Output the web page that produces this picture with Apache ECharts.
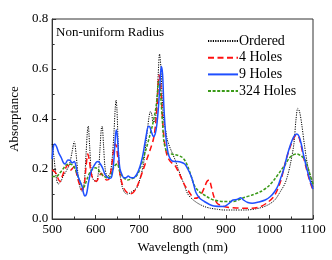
<!DOCTYPE html>
<html><head><meta charset="utf-8">
<script src="https://cdn.jsdelivr.net/npm/echarts@6/dist/echarts.min.js"></script>
<style>html,body{margin:0;padding:0;background:#fff}#c{width:332px;height:260px}</style>
</head><body><div id="c"></div>
<script>
const seriesNames = ['Ordered', '4 Holes', '9 Holes', '324 Holes'];
const xTicks = [500, 600, 700, 800, 900, 1000, 1100];
const yTicks = [0.0, 0.2, 0.4, 0.6, 0.8];

const ordered = [[500,0.30],[504,0.25],[509,0.17],[514,0.14],[520,0.15],[525,0.17],[532,0.19],[540,0.22],[546,0.27],[551,0.31],[555,0.26],[560,0.17],[565,0.12],[569,0.11],[574,0.15],[578,0.26],[581,0.35],[583,0.372],[586,0.3],[590,0.19],[595,0.156],[601,0.15],[606,0.18],[610,0.28],[613,0.36],[615,0.372],[618,0.3],[622,0.2],[627,0.17],[633,0.18],[638,0.24],[642,0.34],[645,0.44],[647,0.476],[649,0.44],[652,0.3],[656,0.18],[661,0.13],[667,0.105],[673,0.10],[680,0.105],[688,0.115],[695,0.125],[702,0.16],[710,0.22],[716,0.31],[720,0.37],[723,0.41],[726,0.43],[729,0.42],[732,0.39],[736,0.39],[740,0.45],[744,0.58],[747,0.66],[750,0.61],[753,0.49],[757,0.39],[761,0.356],[765,0.316],[770,0.29],[776,0.265],[783,0.236],[790,0.2],[798,0.163],[805,0.13],[812,0.10],[822,0.08],[835,0.063],[850,0.05],[864,0.043],[880,0.039],[894,0.036],[916,0.036],[945,0.036],[975,0.043],[995,0.055],[1012,0.076],[1025,0.11],[1035,0.14],[1041,0.17],[1048,0.22],[1056,0.3],[1061,0.4],[1065,0.443],[1069,0.43],[1074,0.38],[1080,0.3],[1087,0.22],[1094,0.17],[1100,0.125]];

const holes4 = [[500,0.196],[505,0.19],[510,0.18],[514,0.16],[518,0.15],[523,0.17],[529,0.196],[536,0.216],[543,0.196],[548,0.205],[552,0.21],[557,0.175],[562,0.143],[569,0.116],[574,0.14],[578,0.21],[582,0.26],[585,0.24],[589,0.19],[593,0.165],[602,0.15],[608,0.17],[613,0.183],[618,0.17],[625,0.156],[631,0.16],[636,0.2],[641,0.27],[645,0.3],[648,0.29],[652,0.23],[657,0.17],[663,0.13],[670,0.11],[678,0.10],[686,0.105],[694,0.125],[702,0.16],[710,0.2],[718,0.24],[726,0.28],[733,0.32],[738,0.38],[742,0.47],[746,0.576],[749,0.55],[752,0.46],[755,0.37],[759,0.3],[765,0.25],[772,0.23],[778,0.22],[783,0.213],[790,0.19],[798,0.16],[805,0.135],[812,0.116],[820,0.095],[827,0.083],[835,0.085],[842,0.096],[850,0.125],[856,0.15],[861,0.156],[866,0.13],[871,0.095],[875,0.076],[880,0.062],[886,0.056],[900,0.048],[916,0.045],[940,0.043],[960,0.043],[980,0.05],[997,0.068],[1010,0.09],[1019,0.12],[1027,0.16],[1034,0.21],[1042,0.26],[1050,0.3],[1056,0.325],[1062,0.336],[1067,0.33],[1072,0.3],[1078,0.25],[1085,0.2],[1092,0.155],[1100,0.115]];

const holes9 = [[500,0.24],[503,0.29],[506,0.30],[510,0.29],[515,0.265],[521,0.245],[526,0.225],[530,0.22],[536,0.236],[541,0.235],[546,0.225],[551,0.23],[555,0.21],[558,0.18],[563,0.155],[569,0.13],[572,0.105],[575,0.092],[579,0.1],[583,0.14],[587,0.175],[591,0.196],[597,0.215],[602,0.228],[606,0.23],[611,0.22],[617,0.2],[621,0.18],[625,0.17],[631,0.163],[636,0.165],[640,0.2],[643,0.26],[646,0.34],[648,0.356],[650,0.33],[653,0.25],[656,0.2],[660,0.18],[665,0.165],[670,0.165],[675,0.172],[680,0.166],[687,0.165],[695,0.18],[702,0.21],[708,0.25],[713,0.3],[717,0.34],[721,0.37],[724,0.37],[728,0.35],[733,0.33],[737,0.34],[741,0.38],[745,0.46],[748,0.54],[751,0.61],[754,0.58],[757,0.45],[761,0.34],[765,0.28],[769,0.25],[776,0.232],[785,0.23],[795,0.228],[805,0.22],[812,0.2],[820,0.17],[826,0.135],[831,0.105],[840,0.082],[850,0.07],[862,0.058],[872,0.052],[894,0.05],[905,0.06],[916,0.076],[925,0.078],[934,0.085],[941,0.075],[950,0.066],[960,0.063],[975,0.068],[990,0.076],[1002,0.09],[1012,0.11],[1020,0.135],[1027,0.17],[1033,0.2],[1038,0.236],[1045,0.28],[1052,0.315],[1058,0.335],[1063,0.34],[1068,0.33],[1073,0.3],[1079,0.25],[1086,0.2],[1093,0.155],[1100,0.12]];

const holes324 = [[500,0.17],[510,0.17],[518,0.185],[525,0.2],[532,0.216],[540,0.22],[547,0.216],[553,0.2],[558,0.176],[564,0.15],[569,0.13],[573,0.128],[577,0.143],[582,0.168],[588,0.19],[594,0.2],[599,0.205],[605,0.2],[613,0.18],[620,0.17],[628,0.163],[635,0.175],[640,0.2],[645,0.215],[650,0.22],[654,0.2],[658,0.18],[665,0.165],[673,0.156],[682,0.16],[690,0.166],[697,0.18],[704,0.21],[710,0.245],[717,0.285],[724,0.33],[730,0.37],[735,0.41],[739,0.45],[742,0.5],[745,0.55],[748,0.53],[751,0.46],[754,0.38],[757,0.31],[762,0.275],[768,0.26],[774,0.26],[779,0.258],[788,0.255],[798,0.248],[805,0.235],[812,0.21],[820,0.17],[827,0.135],[835,0.115],[843,0.103],[850,0.096],[860,0.085],[872,0.076],[894,0.07],[916,0.07],[940,0.085],[960,0.096],[980,0.11],[997,0.13],[1012,0.16],[1027,0.196],[1037,0.22],[1045,0.243],[1054,0.256],[1063,0.26],[1072,0.253],[1082,0.236],[1091,0.19],[1100,0.14]];

const FONT = '"Liberation Serif", "DejaVu Serif", serif';
const chart = echarts.init(document.getElementById('c'), null, {renderer: 'canvas'});
const axisCol = '#333';
const mk = (name, data, color, type, width) => ({
  name, type: 'line', data, symbol: 'none', smooth: 0.3,
  lineStyle: {color, type, width}, itemStyle: {color}, emphasis: {disabled: true}
});
chart.setOption({
  animation: false,
  title: {text: 'Non-uniform Radius', left: 51, top: 21,
    textStyle: {fontFamily: FONT, fontSize: 13, fontWeight: 'normal', color: '#000'}},
  legend: {orient: 'vertical', left: 202, top: 29, itemWidth: 30, itemHeight: 14, itemGap: 2.7,
    data: seriesNames, itemStyle: {opacity: 0},
    textStyle: {fontFamily: FONT, fontSize: 14, color: '#000', padding: [0, 0, 0, -4]}},
  grid: {left: 42, right: 19, top: 19, bottom: 41, show: true, borderColor: axisCol, borderWidth: 1},
  xAxis: {type: 'value', min: xTicks[0], max: xTicks[xTicks.length - 1], interval: 100,
    name: 'Wavelength (nm)', nameLocation: 'middle', nameGap: 21,
    nameTextStyle: {fontFamily: FONT, fontSize: 13, color: '#000'},
    axisLine: {lineStyle: {color: axisCol}},
    axisTick: {inside: true, length: 4, lineStyle: {color: axisCol}},
    minorTick: {show: true, splitNumber: 2, length: 2.5, lineStyle: {color: axisCol}},
    splitLine: {show: false},
    axisLabel: {fontFamily: FONT, fontSize: 13, color: '#000', margin: 4,
      formatter: v => String(v)}},
  yAxis: {type: 'value', min: yTicks[0], max: yTicks[yTicks.length - 1], interval: 0.2,
    name: 'Absorptance', nameLocation: 'middle', nameGap: 24,
    nameTextStyle: {fontFamily: FONT, fontSize: 13, color: '#000'},
    axisLine: {show: true, lineStyle: {color: axisCol}},
    axisTick: {show: true, inside: true, length: 4, lineStyle: {color: axisCol}},
    minorTick: {show: true, splitNumber: 2, length: 2.5, lineStyle: {color: axisCol}},
    splitLine: {show: false},
    axisLabel: {fontFamily: FONT, fontSize: 13, color: '#000', margin: 4,
      formatter: v => v.toFixed(1)}},
  series: [
    mk(seriesNames[0], ordered, '#000000', [1.2, 1.2], 1),
    mk(seriesNames[1], holes4, '#ff1010', [6, 3.5], 1.5),
    mk(seriesNames[3], holes324, '#3a9a18', [3, 1.6], 1.5),
    mk(seriesNames[2], holes9, '#1f4fff', 'solid', 1.5)
  ]
});
</script></body></html>
